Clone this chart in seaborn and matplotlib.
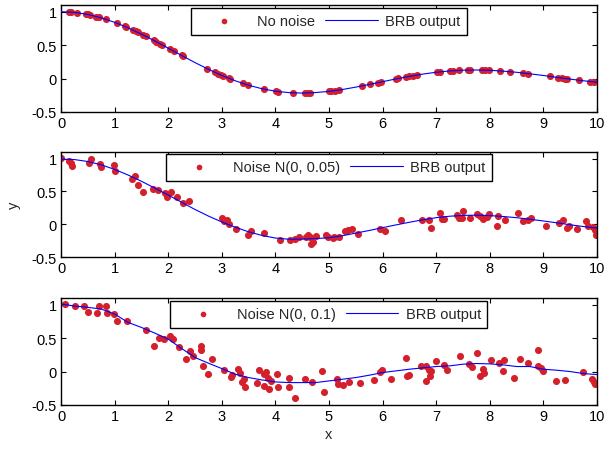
import numpy as np
import pandas as pd
import matplotlib
matplotlib.use('Agg')
import matplotlib.pyplot as plt
import seaborn as sns

# ---- data ----
line_x = [0, 0.25, 0.5, 0.75, 1, 1.25, 1.5, 1.75, 2, 2.25, 2.5, 2.75, 3, 3.25, 3.5,
          3.75, 4, 4.25, 4.5, 4.75, 5, 5.25, 5.5, 5.75, 6, 6.25, 6.5, 6.75, 7, 7.25,
          7.5, 7.75, 8, 8.25, 8.5, 8.75, 9, 9.25, 9.5, 9.75, 10]

brb_clean = [1.0, 0.99, 0.959, 0.909, 0.841, 0.759, 0.665, 0.563, 0.455, 0.346, 0.239,
             0.139, 0.047, -0.033, -0.100, -0.152, -0.189, -0.210, -0.217, -0.209,
             -0.192, -0.164, -0.128, -0.088, -0.047, -0.005, 0.033, 0.067, 0.094, 0.114,
             0.125, 0.128, 0.124, 0.111, 0.094, 0.071, 0.046, 0.019, -0.008, -0.033, -0.054]

brb_n005 = [0.99, 0.985, 0.955, 0.905, 0.835, 0.75, 0.655, 0.55, 0.445, 0.335, 0.225,
            0.125, 0.035, -0.045, -0.115, -0.17, -0.21, -0.228, -0.226, -0.218,
            -0.205, -0.175, -0.135, -0.095, -0.052, -0.01, 0.03, 0.068, 0.1, 0.122,
            0.135, 0.138, 0.132, 0.118, 0.1, 0.076, 0.05, 0.022, -0.008, -0.035, -0.058]

brb_n01 = [1.01, 0.98, 0.96, 0.935, 0.86, 0.735, 0.66, 0.575, 0.485, 0.345, 0.21,
           0.125, 0.045, -0.04, -0.09, -0.125, -0.155, -0.165, -0.165, -0.165,
           -0.14, -0.115, -0.09, -0.055, -0.015, 0.01, 0.035, 0.055, 0.075, 0.085,
           0.11, 0.12, 0.115, 0.1, 0.075, 0.075, 0.035, 0.02, 0.0, -0.03, -0.045]

pts_clean_x = [0.14, 0.18, 0.29, 0.47, 0.5, 0.54, 0.66, 0.7, 0.83, 1.04, 1.19, 1.22,
               1.34, 1.39, 1.43, 1.53, 1.58, 1.73, 1.77, 1.85, 1.89, 2.03, 2.11, 2.25,
               2.28, 2.72, 2.87, 2.92, 2.98, 3.03, 3.13, 3.16, 3.39, 3.49, 3.78, 4.01,
               4.04, 4.33, 4.56, 4.61, 4.65, 5.0, 5.04, 5.11, 5.19, 5.62, 5.77, 5.92,
               5.97, 6.25, 6.29, 6.43, 6.5, 6.57, 6.65, 7.02, 7.07, 7.26, 7.32, 7.43,
               7.6, 7.63, 7.85, 7.91, 7.99, 8.19, 8.37, 8.63, 8.71, 9.13, 9.28, 9.35,
               9.41, 9.45, 9.66, 9.88, 9.95]
pts_clean_y = [0.997, 0.995, 0.986, 0.963, 0.959, 0.952, 0.928, 0.92, 0.887, 0.828,
               0.781, 0.77, 0.727, 0.709, 0.693, 0.653, 0.633, 0.571, 0.554, 0.52,
               0.503, 0.442, 0.407, 0.345, 0.332, 0.150, 0.093, 0.075, 0.054, 0.037,
               0.004, -0.006, -0.073, -0.099, -0.158, -0.192, -0.194, -0.214, -0.216,
               -0.215, -0.214, -0.192, -0.188, -0.181, -0.171, -0.111, -0.088, -0.062,
               -0.053, -0.005, 0.001, 0.023, 0.033, 0.043, 0.054, 0.094, 0.099, 0.114,
               0.118, 0.124, 0.128, 0.128, 0.127, 0.125, 0.124, 0.115, 0.104, 0.083,
               0.075, 0.032, 0.015, 0.007, 0.0, -0.004, -0.026, -0.044, -0.05]

pts_n005_x = [0.0, 0.15, 0.18, 0.2, 0.53, 0.56, 0.73, 0.75, 0.98, 1.01, 1.33, 1.38,
              1.44, 1.53, 1.72, 1.81, 1.94, 1.97, 2.06, 2.16, 2.28, 2.38, 3.01, 3.04,
              3.09, 3.14, 3.26, 3.48, 3.54, 3.79, 4.08, 4.28, 4.36, 4.44, 4.58, 4.61,
              4.64, 4.67, 4.7, 4.76, 4.95, 4.98, 5.07, 5.1, 5.19, 5.29, 5.36, 5.43,
              5.54, 5.95, 6.04, 6.35, 6.73, 6.87, 6.91, 7.08, 7.1, 7.14, 7.38, 7.43,
              7.49, 7.51, 7.64, 7.76, 7.82, 7.88, 7.94, 7.99, 8.13, 8.16, 8.29, 8.52,
              8.63, 8.72, 8.77, 9.05, 9.3, 9.36, 9.44, 9.47, 9.63, 9.8, 9.84, 9.93,
              9.97, 9.99]
pts_n005_y = [1.01, 0.97, 0.93, 0.88, 0.93, 0.995, 0.92, 0.87, 0.9, 0.81, 0.685, 0.74,
              0.59, 0.49, 0.54, 0.52, 0.48, 0.42, 0.49, 0.42, 0.32, 0.355, 0.1, 0.05,
              0.06, 0.01, -0.065, -0.16, -0.1, -0.14, -0.245, -0.245, -0.22, -0.2,
              -0.19, -0.16, -0.2, -0.3, -0.27, -0.18, -0.16, -0.2, -0.21, -0.19, -0.2,
              -0.1, -0.09, -0.075, -0.15, -0.075, -0.1, 0.06, 0.06, 0.07, -0.05, 0.17,
              0.085, 0.075, 0.135, 0.095, 0.1, 0.205, 0.1, 0.16, 0.125, 0.075, 0.11,
              0.15, -0.03, 0.12, 0.06, 0.17, 0.045, 0.07, 0.095, -0.03, 0.025, 0.06,
              -0.05, -0.025, -0.065, 0.05, -0.025, -0.04, -0.09, -0.16]

pts_n01_x = [0.075, 0.26, 0.43, 0.51, 0.68, 0.7, 0.83, 0.86, 0.98, 1.04, 1.23, 1.58,
             1.74, 1.83, 1.93, 2.04, 2.09, 2.21, 2.34, 2.4, 2.46, 2.62, 2.62, 2.65,
             2.74, 2.81, 3.04, 3.17, 3.19, 3.31, 3.34, 3.38, 3.42, 3.43, 3.66, 3.7,
             3.78, 3.79, 3.83, 3.86, 3.89, 3.92, 4.03, 4.04, 4.26, 4.26, 4.36, 4.56,
             4.68, 4.87, 4.91, 5.15, 5.16, 5.27, 5.37, 5.57, 5.84, 5.95, 5.99, 6.15,
             6.43, 6.45, 6.5, 6.71, 6.81, 6.82, 6.87, 6.88, 6.9, 7.0, 7.15, 7.21, 7.44,
             7.62, 7.67, 7.76, 7.82, 7.87, 7.9, 8.02, 8.17, 8.24, 8.27, 8.45, 8.57,
             8.71, 8.9, 8.91, 8.95, 8.99, 9.24, 9.4, 9.74, 9.91, 9.94, 9.96]
pts_n01_y = [1.01, 0.975, 0.975, 0.895, 0.875, 0.975, 0.975, 0.875, 0.86, 0.76, 0.75,
             0.62, 0.38, 0.495, 0.485, 0.535, 0.485, 0.36, 0.195, 0.31, 0.235, 0.385,
             0.325, 0.085, -0.04, 0.195, 0.025, -0.075, -0.05, 0.035, -0.025, -0.155,
             -0.115, -0.23, -0.175, 0.02, -0.215, -0.04, -0.005, -0.09, -0.265, -0.14,
             -0.03, -0.23, -0.1, -0.23, -0.39, -0.115, -0.155, 0.01, -0.305, -0.115,
             -0.18, -0.2, -0.155, -0.175, -0.125, -0.005, 0.02, -0.115, 0.21, -0.065,
             -0.05, 0.085, -0.14, 0.085, 0.025, -0.065, 0.01, 0.16, 0.105, 0.025, 0.235,
             0.11, 0.07, 0.27, -0.065, 0.035, -0.015, 0.175, 0.135, 0.01, 0.175, -0.1,
             0.195, 0.125, 0.32, 0.085, 0.05, 0.01, -0.14, -0.125, -0.005, -0.115,
             -0.15, -0.18]

panels = [
    ('No noise', pts_clean_x, pts_clean_y, brb_clean, 0.975),
    ('Noise N(0, 0.05)', pts_n005_x, pts_n005_y, brb_n005, 0.985),
    ('Noise N(0, 0.1)', pts_n01_x, pts_n01_y, brb_n01, 0.975),
]

sns.set_style('ticks')
plt.rcParams['font.family'] = ['Liberation Sans', 'DejaVu Sans']
plt.rcParams['xtick.direction'] = 'in'
plt.rcParams['ytick.direction'] = 'in'
plt.rcParams['xtick.top'] = True
plt.rcParams['ytick.right'] = True
plt.rcParams['xtick.major.size'] = 3.5
plt.rcParams['ytick.major.size'] = 3.5
plt.rcParams['axes.linewidth'] = 1.0
plt.rcParams['axes.edgecolor'] = 'black'

fig = plt.figure(figsize=(6.06, 4.52), dpi=100)
boxes = [(0.1007, 0.750, 0.8843, 0.2367),
         (0.1007, 0.429, 0.8843, 0.2325),
         (0.1007, 0.1018, 0.8843, 0.2367)]

red = '#d4202a'
axes = []
for (label, px, py, brb, ytop), box in zip(panels, boxes):
    ax = fig.add_axes(box)
    sns.scatterplot(x=px, y=py, ax=ax, color=red, s=26, linewidth=0,
                    label=label, zorder=2)
    sns.lineplot(x=line_x, y=brb, ax=ax, color='blue', linewidth=0.8,
                 label='BRB output', zorder=3)
    ax.set_xlim(0, 10)
    ax.set_ylim(-0.5, 1.1)
    ax.set_xticks(range(0, 11))
    ax.set_yticks([-0.5, 0, 0.5, 1])
    ax.set_yticklabels(['-0.5', '0', '0.5', '1'])
    ax.tick_params(labelsize=10.5, width=0.8, colors='black', pad=3)
    for s in ax.spines.values():
        s.set_visible(True)
    leg = ax.legend(loc='upper center', bbox_to_anchor=(0.5, ytop), ncol=2,
                    fontsize=10.5, handlelength=3.6, handletextpad=0.5,
                    columnspacing=0.7, borderpad=0.45, borderaxespad=0,
                    fancybox=False, framealpha=1, edgecolor='black',
                    markerscale=0.8, scatterpoints=1)
    leg.get_frame().set_linewidth(1.0)
    ax.set_xlabel('')
    ax.set_ylabel('')
    axes.append(ax)

axes[1].set_ylabel('y', fontsize=10.5, labelpad=8)
axes[2].set_xlabel('x', fontsize=10.5, labelpad=3)

fig.savefig('out.png', dpi=100)
